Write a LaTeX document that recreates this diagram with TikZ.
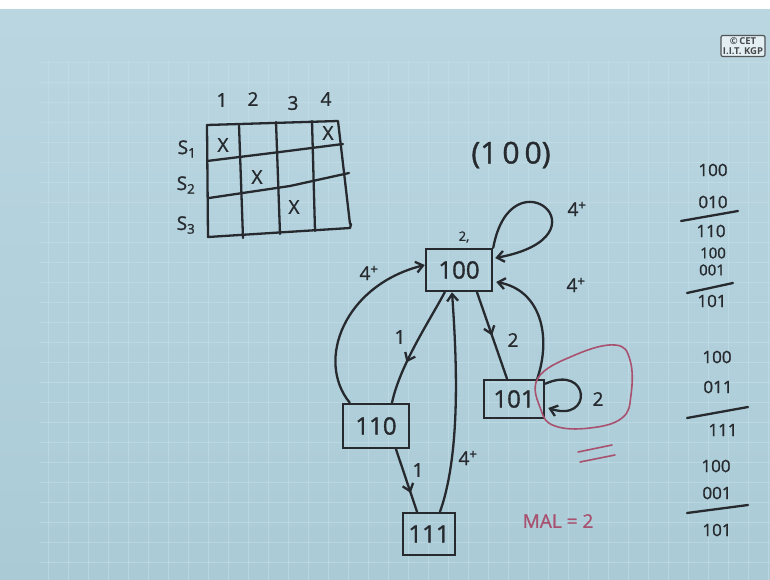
\documentclass[tikz,border=0pt]{standalone}
\usepackage{fontspec}
\setmainfont{Open Sans}
\newfontfamily\handfont{Open Sans}[FakeBold=1.2]
\usetikzlibrary{arrows.meta,decorations.markings,calc}
\definecolor{boardhi}{RGB}{186,214,225}
\definecolor{boardlo}{RGB}{170,203,214}
\definecolor{gridc}{RGB}{198,224,233}
\definecolor{ink}{RGB}{38,42,46}
\definecolor{redink}{RGB}{168,82,112}
\tikzset{
  hand/.style={draw=ink, line width=2.3pt, line cap=round, line join=round},
  redhand/.style={draw=redink, line width=1.6pt, line cap=round, line join=round},
  tip/.style={-{Straight Barb[length=7pt,width=11pt]}},
  midarrow/.style={postaction={decorate}, decoration={markings,
     mark=at position #1 with {\arrow[ink,line width=2.3pt]{Straight Barb[length=7pt,width=11pt]}}}},
  statebox/.style={draw=ink, line width=2.5pt, inner sep=0pt, text=ink,
     font=\handfont\fontsize{24}{24}\selectfont},
  lbl/.style={text=ink, inner sep=0pt, font=\handfont\fontsize{19}{19}\selectfont},
  sumtxt/.style={text=ink, inner sep=0pt, font=\handfont\fontsize{17}{17}\selectfont},
}
\begin{document}
\begin{tikzpicture}[x=1pt,y=-1pt]
\useasboundingbox (0,0) rectangle (770,580);
% board
\fill[white] (0,0) rectangle (770,10);
\shade[top color=boardhi, bottom color=boardlo] (0,10) rectangle (770,580);
\foreach \x in {48,68,...,768} \draw[gridc, line width=0.6pt, opacity=0.55] (\x,60) -- (\x,580);
\foreach \y in {62,82,...,580} \draw[gridc, line width=0.6pt, opacity=0.55] (40,\y) -- (770,\y);
% logo
\node[draw=ink!80, rounded corners=2pt, line width=1.2pt, fill=boardhi!40!white,
      font=\fontsize{9.5}{10}\selectfont\bfseries, text=ink!85, align=center, inner sep=2pt]
      (logo) at (743,46) {\copyright\,CET\\I.I.T. KGP};

% ---------------- table ----------------
\draw[hand] (207,125) -- (338,121) -- (350,224);
\draw[hand] (207,125) -- (208,237) -- (350,228) -- (351,224);
\draw[hand] (207,161) -- (280,152) -- (343,144);
\draw[hand] (209,198) -- (290,186) -- (349,173);
\draw[hand] (239,125) -- (243,238);
\draw[hand] (276,122) -- (280,234);
\draw[hand] (312,121) -- (315,231);
\node[lbl] (c1) at (222,100) {1};
\node[lbl] (c2) at (253,99) {2};
\node[lbl] (c3) at (293,103) {3};
\node[lbl] (c4) at (326,99) {4};
\node[lbl] (s1) at (187,149) {S\textsubscript{1}};
\node[lbl] (s2) at (186,185) {S\textsubscript{2}};
\node[lbl] (s3) at (186,225) {S\textsubscript{3}};
\node[lbl] (x11) at (223,145) {X};
\node[lbl] (x14) at (328,133) {X};
\node[lbl] (x22) at (257,177) {X};
\node[lbl] (x33) at (294,207) {X};

% ---------------- graph ----------------
\node[lbl, font=\handfont\fontsize{30}{30}\selectfont] (init) at (511,155) {(1\,0\,0)};
\node[statebox, minimum width=66pt, minimum height=42pt] (n100) at (459,270) {100};
\node[statebox, minimum width=60pt, minimum height=38pt] (n101) at (514,399) {101};
\node[statebox, minimum width=66pt, minimum height=44pt] (n110) at (376,426) {110};
\node[statebox, minimum width=52pt, minimum height=42pt] (n111) at (429,534) {111};
\node[lbl, font=\handfont\fontsize{13}{13}\selectfont] (mark) at (464,237) {2,};

% self loop on 100
\draw[hand, tip] (n100.north east) .. controls +(18,-98) and +(118,-22) .. ($(n100.east)+(2,-12)$);
\node[lbl] (l100) at (577,209) {4\textsuperscript{+}};
% 101 -> 100
\draw[hand, tip] ($(n101.north east)+(-8,0)$) .. controls (552,335) and (540,290) .. ($(n100.east)+(3,12)$);
\node[lbl] (l101up) at (576,285) {4\textsuperscript{+}};
% 100 -> 101
\draw[hand, midarrow=0.5] ($(n100.south)+(18,0)$) -- ($(n101.north)+(-7,0)$);
\node[lbl] (l2) at (513,340) {2};
% self loop on 101
\draw[hand, tip] ($(n101.north east)+(0,5)$) .. controls +(45,-20) and +(45,15) .. ($(n101.east)+(3,9)$);
\node[lbl] (l101) at (598,399) {2};
% pink oval
\draw[redhand] plot[smooth cycle, tension=0.7] coordinates
  {(538,378) (575,355) (615,345) (630,360) (631,395) (622,418) (590,428) (555,426) (541,410)};
\draw[redhand] (578,452) -- (612,445);
\draw[redhand] (580,462) -- (615,455);
% 100 -> 110
\draw[hand, midarrow=0.65] ($(n100.south west)+(20,0)$) .. controls (430,320) and (400,365) .. ($(n110.north)+(16,0)$);
\node[lbl] (l1a) at (400,337) {1};
% 110 -> 100
\draw[hand, tip] ($(n110.north west)+(8,0)$) .. controls (315,360) and (345,285) .. ($(n100.west)+(0,-5)$);
\node[lbl] (l110up) at (369,273) {4\textsuperscript{+}};
% 110 -> 111
\draw[hand, midarrow=0.7] ($(n110.south)+(20,0)$) -- ($(n111.north)+(-12,0)$);
\node[lbl] (l1b) at (418,470) {1};
% 111 -> 100
\draw[hand, tip] ($(n111.north)+(11,0)$) .. controls (462,450) and (456,350) .. ($(n100.south)+(-7,0)$);
\node[lbl] (l111up) at (468,458) {4\textsuperscript{+}};

\node[text=redink, inner sep=0pt, font=\handfont\fontsize{19}{19}\selectfont] (mal) at (558,521) {MAL = 2};

% ---------------- sums ----------------
\node[sumtxt] (a1) at (713,170) {100};
\node[sumtxt] (a2) at (713,202) {010};
\draw[hand] (681,221) -- (738,211);
\node[sumtxt] (a3) at (711,231) {110};
\node[sumtxt, font=\handfont\fontsize{15}{15}\selectfont] (b1) at (713,253) {100};
\node[sumtxt, font=\handfont\fontsize{15}{15}\selectfont] (b2) at (712,270) {001};
\draw[hand] (687,293) -- (733,283);
\node[sumtxt] (b3) at (712,301) {101};
\node[sumtxt] (d1) at (717,357) {100};
\node[sumtxt] (d2) at (718,387) {011};
\draw[hand] (687,418) -- (748,407);
\node[sumtxt] (d3) at (723,430) {111};
\node[sumtxt] (e1) at (716,466) {100};
\node[sumtxt] (e2) at (717,493) {001};
\draw[hand] (687,513) -- (748,505);
\node[sumtxt] (e3) at (717,530) {101};
\end{tikzpicture}
\end{document}
